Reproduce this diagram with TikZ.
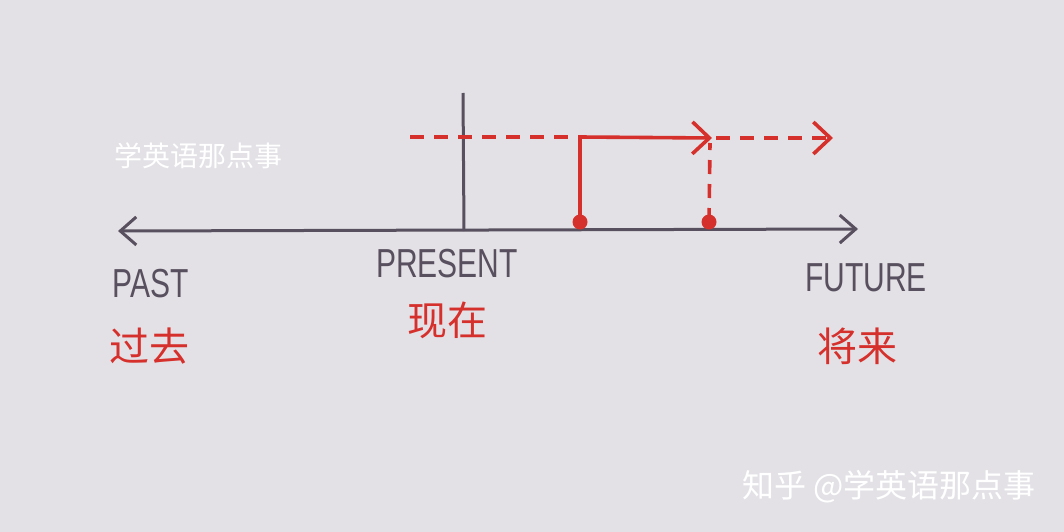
\documentclass[tikz,border=0pt]{standalone}
\usepackage{fontspec}
\setmainfont{Liberation Sans}
\newfontfamily\cjk{Noto Sans CJK SC}
\usetikzlibrary{arrows.meta}
\definecolor{paper}{RGB}{227,225,230}
\definecolor{pencil}{RGB}{88,80,94}
\definecolor{pen}{RGB}{214,48,44}
\tikzset{
  axis/.style={draw=pencil, line width=3pt},
  chevboth/.style={{Straight Barb[length=16pt,width=28pt,line width=3pt]}-{Straight Barb[length=16pt,width=28pt,line width=3pt]}},
  redsolid/.style={draw=pen, line width=3.6pt},
  reddash/.style={draw=pen, line width=3.6pt, dash pattern=on 14pt off 10pt},
  redchev/.style={-{Straight Barb[length=17pt,width=32pt,line width=3.6pt]}},
  dot/.style={circle, fill=pen, inner sep=0pt, minimum size=15pt},
  engl/.style={text=pencil, font=\fontsize{30}{32}\selectfont},
  chin/.style={text=pen, font=\cjk\fontsize{40}{42}\selectfont},
  wm/.style={text=white, font=\cjk\fontsize{#1}{#1}\selectfont},
}
\begin{document}
\begin{tikzpicture}[x=1pt,y=-1pt]
\fill[paper] (0,0) rectangle (1064,532);
\useasboundingbox (0,0) rectangle (1064,532);
% axis
\coordinate (L) at (118,231);
\coordinate (R) at (858,229);
\draw[axis, chevboth] (L) -- (R);
\coordinate (Ptop) at (463,93);
\coordinate (Pbot) at (464,231);
\draw[axis] (Ptop) -- (Pbot);
% red
\coordinate (D0) at (410,137);
\coordinate (S0) at (580,137);
\coordinate (S1) at (712,138);
\coordinate (S1b) at (716,138);
\coordinate (E1) at (833,138);
\node[dot] (A) at (580,222) {};
\node[dot] (B) at (709,222) {};
\coordinate (Btop) at (710,143);
\draw[reddash] (D0) -- (S0);
\draw[redsolid] (A.center) -- (S0);
\draw[redsolid, redchev] (S0) -- (S1);
\draw[reddash, redchev] (S1b) -- (E1);
\draw[reddash] (B.center) -- (Btop);
% labels
\node[engl] (past) at (151,284) {\scalebox{1}[1.35]{PAST}};
\node[engl] (present) at (447,264) {\scalebox{1}[1.35]{PRESENT}};
\node[engl] (future) at (866,278) {\scalebox{1}[1.35]{FUTURE}};
\node[chin] (guoqu) at (149,346) {过去};
\node[chin] (xianzai) at (447,320) {现在};
\node[chin] (jianglai) at (857,346) {将来};
% watermarks
\node[wm=28] (wm1) at (198,156) {学英语那点事};
\node[wm=32] (wm2) at (889,487) {知乎 @学英语那点事};
\end{tikzpicture}
\end{document}
